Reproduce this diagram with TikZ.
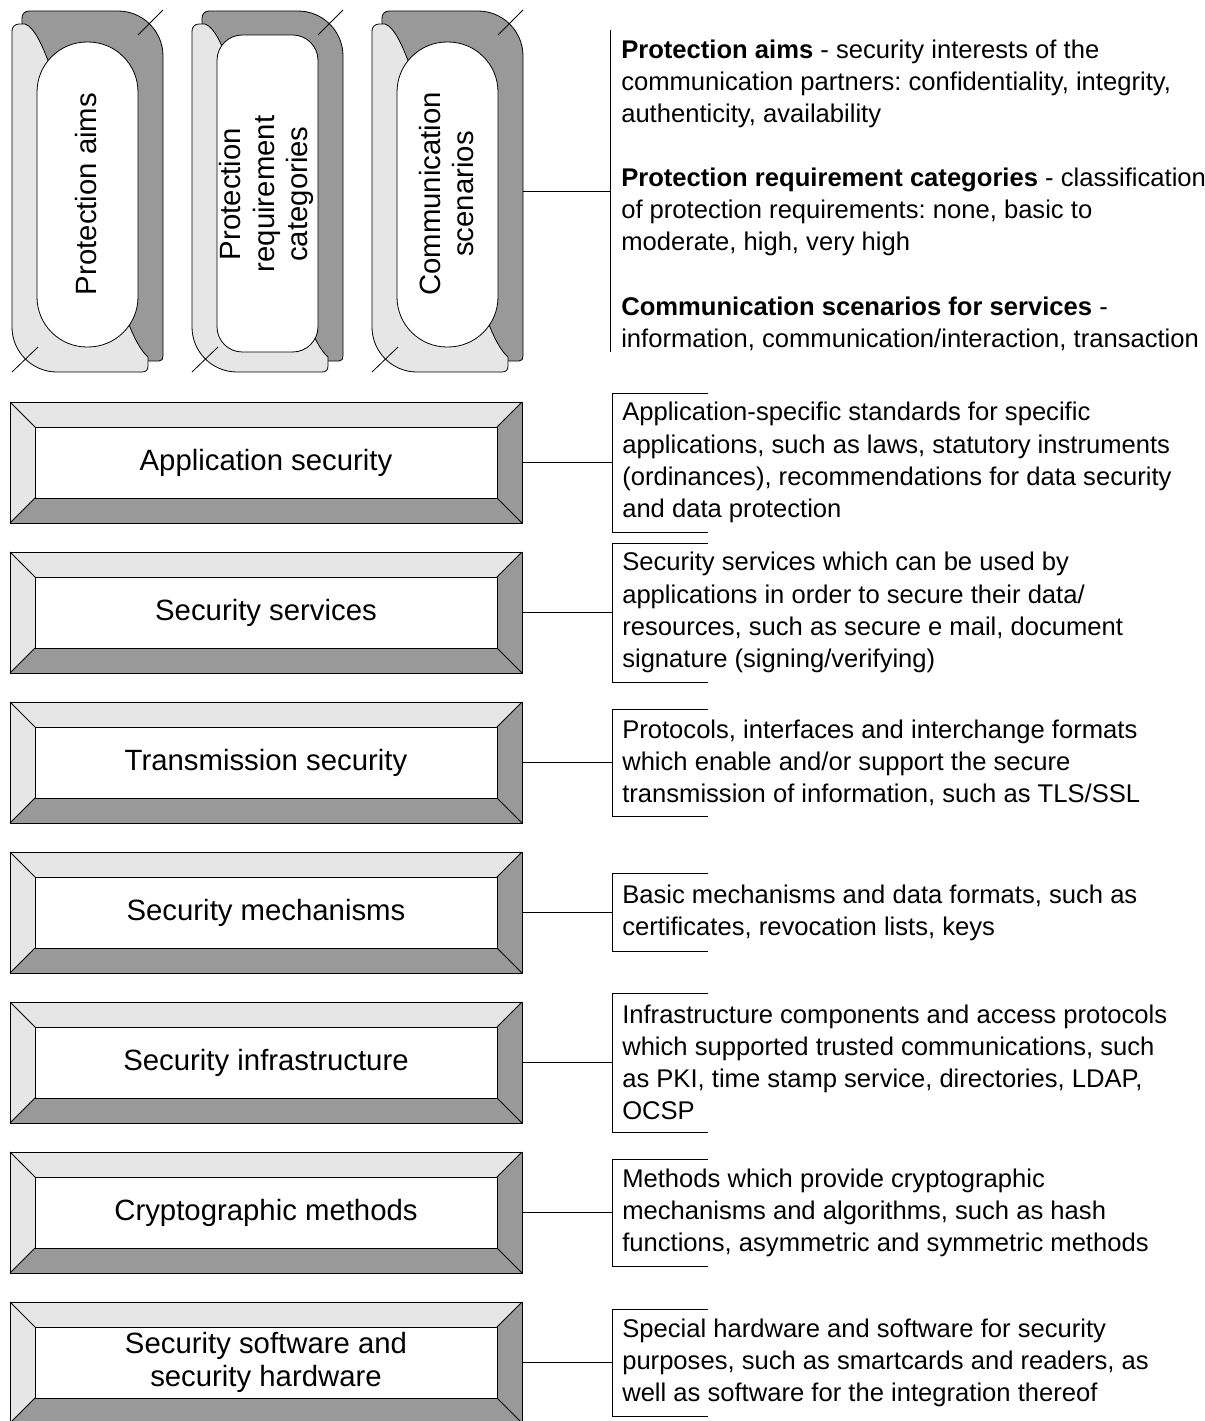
\documentclass[tikz,border=0pt]{standalone}
\usepackage{fontspec}
\setmainfont{Liberation Sans}
\usetikzlibrary{calc}
\frenchspacing
\definecolor{lightg}{RGB}{230,230,230}
\definecolor{darkg}{RGB}{153,153,153}
\newcommand\boxfont{\fontsize{22}{25}\selectfont}
\newcommand\descfont{\fontsize{19.2}{24.1}\selectfont\frenchspacing}
\tikzset{
  ln/.style={draw=black, line width=0.6pt},
  secbox/.style={draw=black, line width=0.6pt, minimum width=384pt, minimum height=90.75pt, inner sep=0pt, align=center, font=\boxfont},
  desc/.style={anchor=west, inner xsep=7.5pt, inner ysep=0pt, align=left, font=\descfont},
  plabel/.style={rotate=90, align=center, font=\boxfont, inner sep=0pt},
  pillarbox/.style={minimum width=113.25pt, minimum height=270.75pt, inner sep=0pt}
}
% #1 x offset, #2 corner radius, #3 top of inner, #4 bottom of inner, #5 name, #6 label
\newcommand\mypillar[6]{%
\begin{scope}[shift={(#1,0)}]
 \filldraw[ln, fill=darkg] (22,26) -- (22,18) .. controls (22,14) and (25,11) .. (29,11) -- (118,11)
   .. controls (142.85,11) and (163,31.15) .. (163,56) -- (163,356) .. controls (163,359) and (162,361) .. (159,361)
   -- (140,361) -- (90,300) -- (22,100) -- cycle;
 \filldraw[ln, fill=lightg] (12,31) .. controls (12,27) and (15,24) .. (19,24) -- (25,24)
   .. controls (34,27) and (42,44) .. (50,66) -- (110,280) -- (128,322)
   .. controls (134,338) and (141,351) .. (148,357) -- (148,366) .. controls (148,370) and (146,372) .. (142,372)
   -- (57,372) .. controls (32.15,372) and (12,351.85) .. (12,327) -- cycle;
 \filldraw[ln, fill=white, rounded corners=#2] (37,#3) rectangle (138,#4);
 \draw[ln] (138,35) -- (163,10);
 \draw[ln] (12,372) -- (38,347);
 \node[pillarbox] (#5) at (87.5,191.5) {};
 \node[plabel] (#5l) at (86.5,194) {#6};
\end{scope}}
% #1 name, #2 top y, #3 label, #4 bracket half height, #5 description
\newcommand\secrow[5]{%
 \fill[lightg] (10,#2) -- (522,#2) -- (497,#2+25) -- (35,#2+25) -- (35,#2+96) -- (10,#2+121) -- cycle;
 \fill[darkg] (522,#2) -- (522,#2+121) -- (10,#2+121) -- (35,#2+96) -- (497,#2+96) -- (497,#2+25) -- cycle;
 \draw[ln] (10,#2) -- (35,#2+25) (522,#2) -- (497,#2+25) (10,#2+121) -- (35,#2+96) (522,#2+121) -- (497,#2+96);
 \draw[ln, fill=white] (35,#2+25) rectangle (497,#2+96);
 \node[secbox] (#1) at (266,#2+60.5) {#3};
 \node[desc] (#1d) at (612,#2+60.5) {#5};
 \coordinate (#1t) at (612,#2+60.5-#4);
 \coordinate (#1u) at (612,#2+60.5+#4);
 \draw[ln] ([xshift=72pt]#1t) -- (#1t) -- (#1u) -- ([xshift=72pt]#1u);
 \draw[ln] (#1.east) -- (#1.east -| #1t);
}
\begin{document}
\begin{tikzpicture}[x=0.75pt, y=-0.75pt]
\useasboundingbox (0,0) rectangle (1204,1421);
\fill[white] (0,0) rectangle (1204,1421);

\mypillar{0}{37.5pt}{42}{347}{pil1}{Protection aims}
\mypillar{180}{19pt}{35}{352}{pil2}{Protection\\requirement\\categories}
\mypillar{360}{37.5pt}{42}{347}{pil3}{Communication\\scenarios}

\coordinate (tt) at (610,30);
\coordinate (tb) at (610,352);
\draw[ln] (tt) -- (tb);
\draw[ln] (pil3.east) -- (pil3.east -| tt);
\node[desc, inner xsep=8.25pt] (topdesc) at (610,195) {\textbf{Protection aims} - security interests of the\\
communication partners: confidentiality, integrity,\\
authenticity, availability\\[24.1pt]
\textbf{Protection requirement categories} - classification\\
of protection requirements: none, basic to\\
moderate, high, very high\\[24.1pt]
\textbf{Communication scenarios for services} -\\
information, communication/interaction, transaction};

\secrow{b1}{402}{Application security}{69.5}{Application-specific standards for specific\\
applications, such as laws, statutory instruments\\
(ordinances), recommendations for data security\\
and data protection}
\secrow{b2}{552}{Security services}{69.5}{Security services which can be used by\\
applications in order to secure their data/\\
resources, such as secure e mail, document\\
signature (signing/verifying)}
\secrow{b3}{702}{Transmission security}{53.5}{Protocols, interfaces and interchange formats\\
which enable and/or support the secure\\
transmission of information, such as TLS/SSL}
\secrow{b4}{852}{Security mechanisms}{39}{Basic mechanisms and data formats, such as\\
certificates, revocation lists, keys}
\secrow{b5}{1002}{Security infrastructure}{69.5}{Infrastructure components and access protocols\\
which supported trusted communications, such\\
as PKI, time stamp service, directories, LDAP,\\
OCSP}
\secrow{b6}{1152}{Cryptographic methods}{53.5}{Methods which provide cryptographic\\
mechanisms and algorithms, such as hash\\
functions, asymmetric and symmetric methods}
\secrow{b7}{1302}{Security software and\\security hardware}{53.5}{Special hardware and software for security\\
purposes, such as smartcards and readers, as\\
well as software for the integration thereof}
\end{tikzpicture}
\end{document}
